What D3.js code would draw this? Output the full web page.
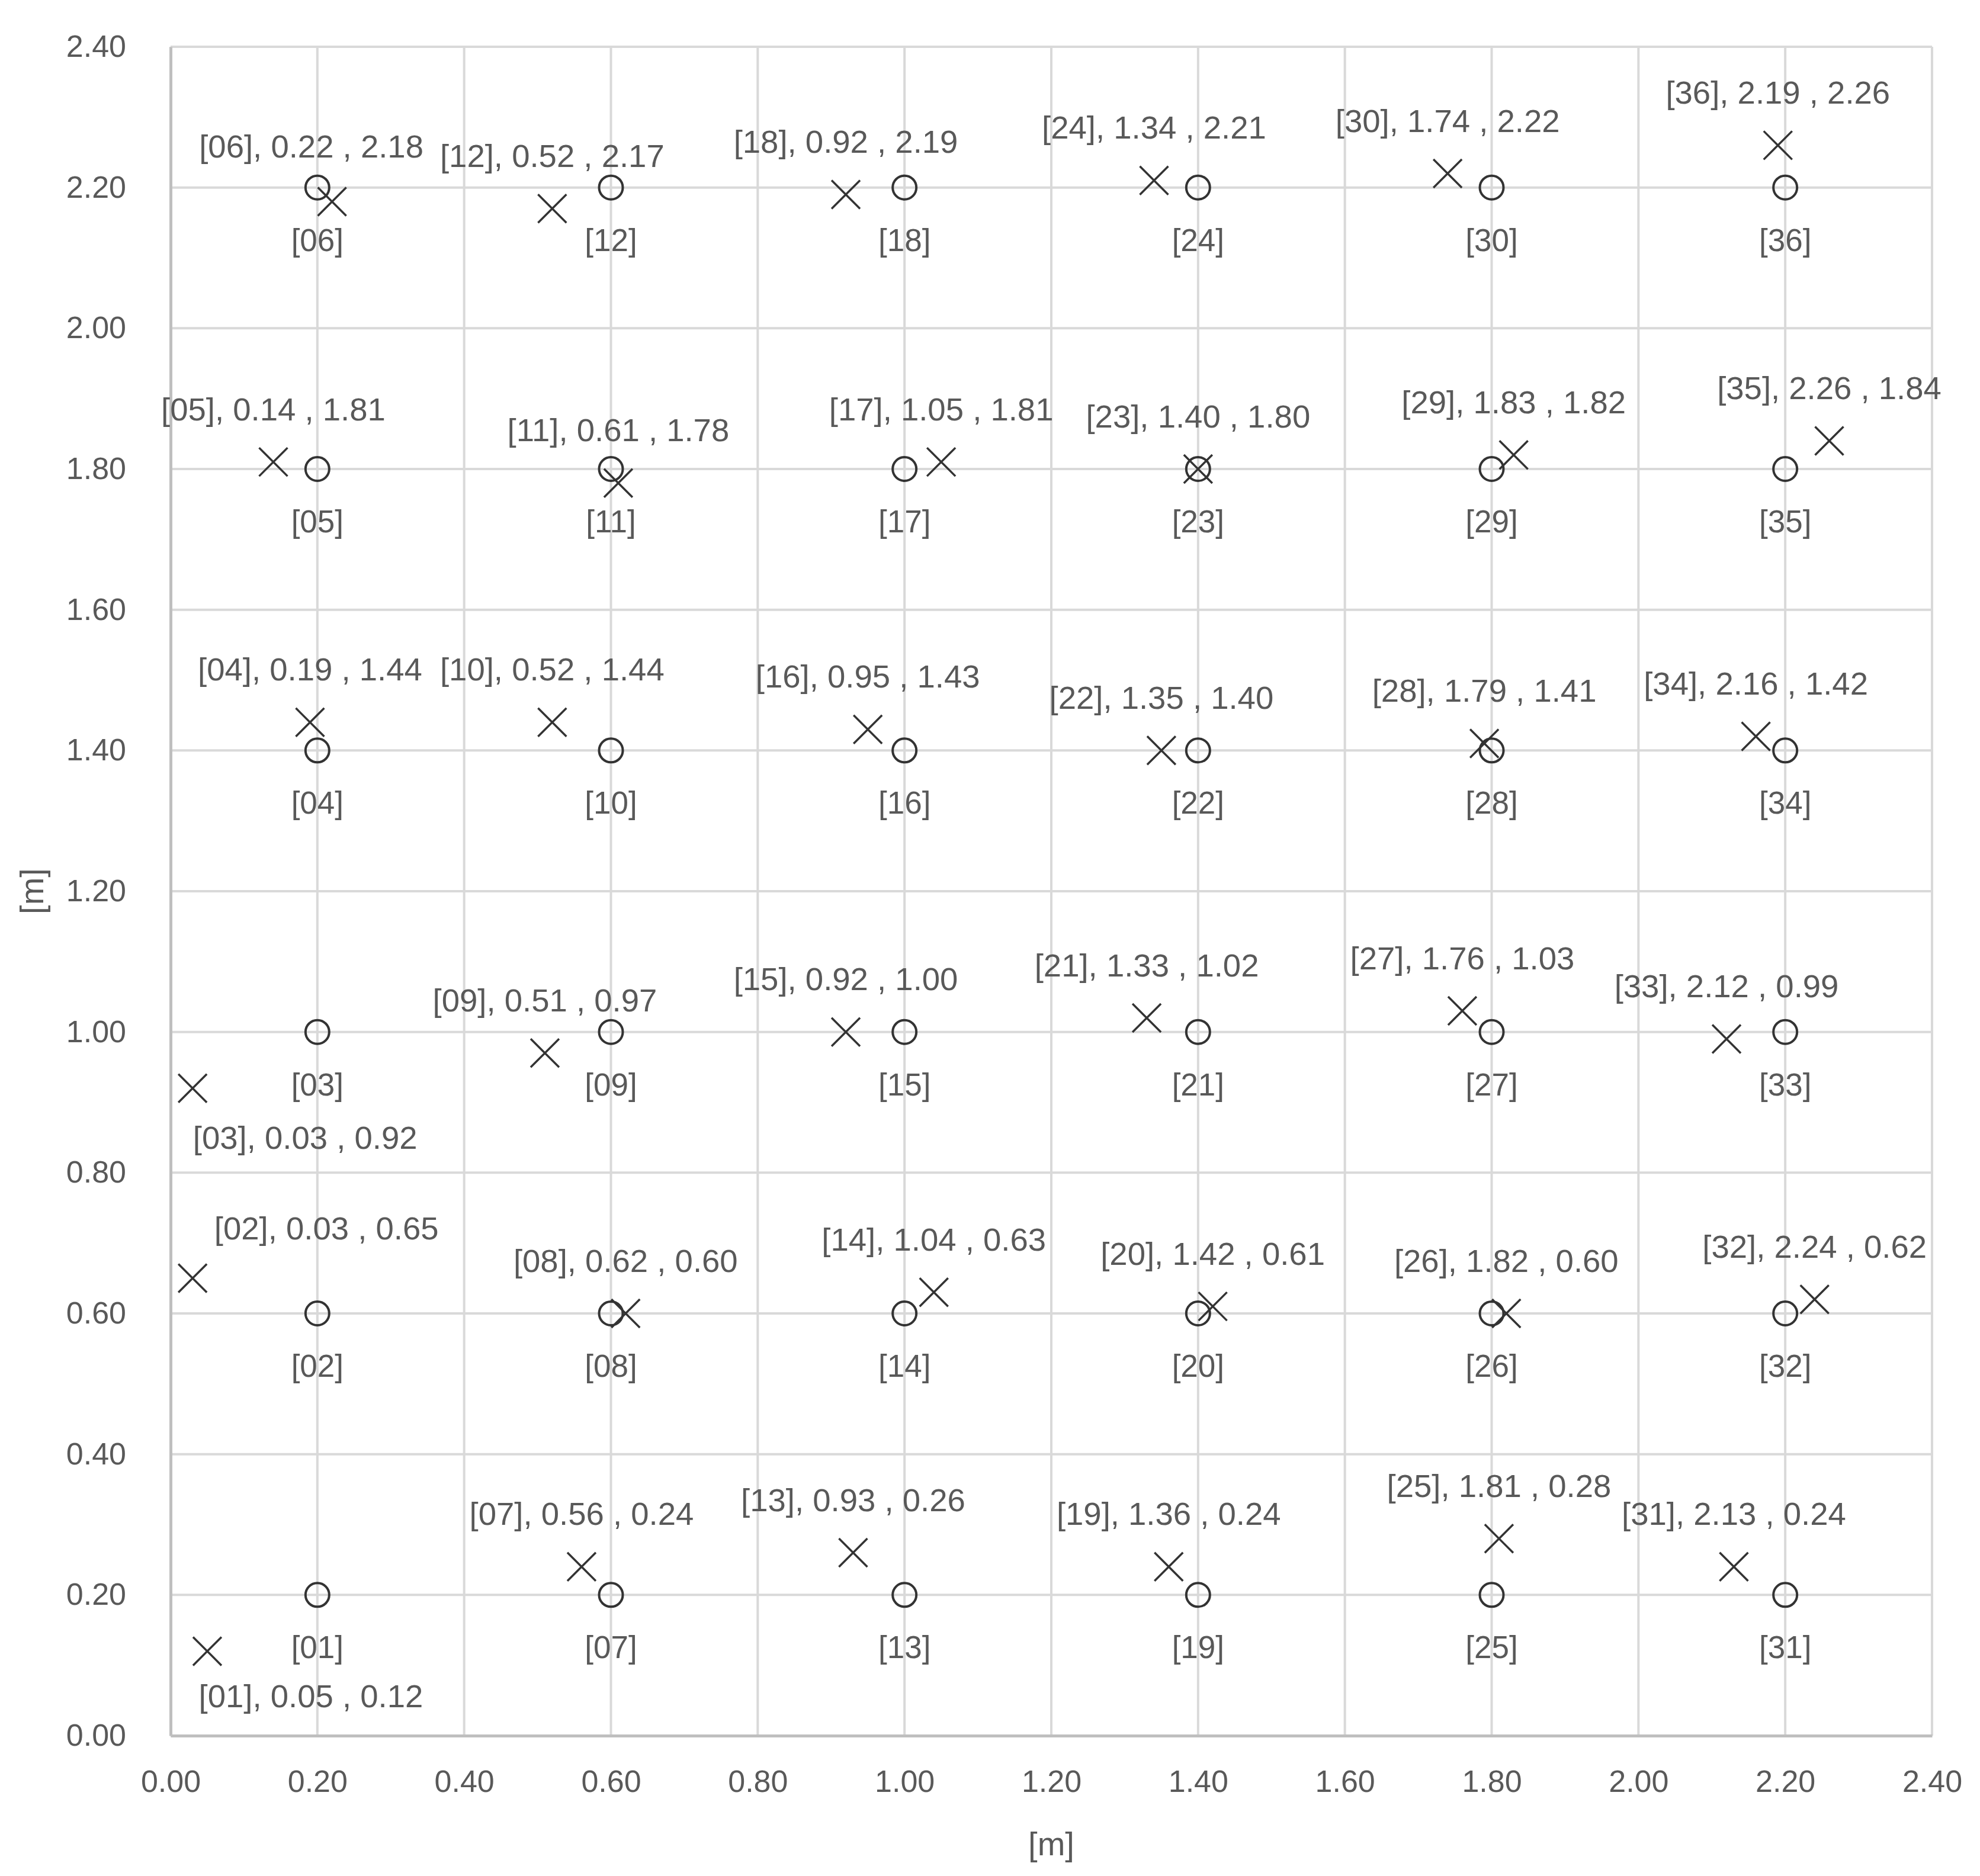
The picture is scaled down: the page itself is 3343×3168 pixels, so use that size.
<!DOCTYPE html>
<html>
<head>
<meta charset="utf-8">
<script src="https://cdnjs.cloudflare.com/ajax/libs/d3/7.8.5/d3.min.js"></script>
<style>
  body { margin: 0; background: #fff; }
  text { font-family: "Liberation Sans", Arial, sans-serif; fill: #595959; }
</style>
</head>
<body>
<div id="scatter"></div>
<script>
// point numbers
var pointIds = ["01","02","03","04","05","06","07","08","09","10","11","12",
                "13","14","15","16","17","18","19","20","21","22","23","24",
                "25","26","27","28","29","30","31","32","33","34","35","36"];

// reference (target) positions - the circles
var targetX = [0.2,0.2,0.2,0.2,0.2,0.2, 0.6,0.6,0.6,0.6,0.6,0.6,
               1.0,1.0,1.0,1.0,1.0,1.0, 1.4,1.4,1.4,1.4,1.4,1.4,
               1.8,1.8,1.8,1.8,1.8,1.8, 2.2,2.2,2.2,2.2,2.2,2.2];
var targetY = [0.2,0.6,1.0,1.4,1.8,2.2, 0.2,0.6,1.0,1.4,1.8,2.2,
               0.2,0.6,1.0,1.4,1.8,2.2, 0.2,0.6,1.0,1.4,1.8,2.2,
               0.2,0.6,1.0,1.4,1.8,2.2, 0.2,0.6,1.0,1.4,1.8,2.2];

// estimated positions - the crosses
var measuredX = [0.05,0.03,0.03,0.19,0.14,0.22, 0.56,0.62,0.51,0.52,0.61,0.52,
                 0.93,1.04,0.92,0.95,1.05,0.92, 1.36,1.42,1.33,1.35,1.40,1.34,
                 1.81,1.82,1.76,1.79,1.83,1.74, 2.13,2.24,2.12,2.16,2.26,2.19];
var measuredY = [0.12,0.65,0.92,1.44,1.81,2.18, 0.24,0.60,0.97,1.44,1.78,2.17,
                 0.26,0.63,1.00,1.43,1.81,2.19, 0.24,0.61,1.02,1.40,1.80,2.21,
                 0.28,0.60,1.03,1.41,1.82,2.22, 0.24,0.62,0.99,1.42,1.84,2.26];

// axis ticks
var tickValues = [0.00,0.20,0.40,0.60,0.80,1.00,1.20,1.40,1.60,1.80,2.00,2.20,2.40];

// labels that were moved by hand in the original (pixels)
var labelNudge = {
    "01": [175, 75],
    "02": [226, -85],
    "03": [190, 83],
    "06": [-35, -94]
};

var svgWidth = 3343;
var svgHeight = 3168;

var chartMargin = {
    top: 79,
    right: 81,
    left: 288,
    bottom: 237};

var chartWidth = svgWidth - chartMargin.left - chartMargin.right;
var chartHeight = svgHeight - chartMargin.top - chartMargin.bottom;

var svg = d3.select("#scatter")
    .append("svg")
    .attr("height", svgHeight)
    .attr("width", svgWidth);

svg.append("rect")
    .attr("width", svgWidth)
    .attr("height", svgHeight)
    .attr("fill", "#fff");

var chartGroup = svg.append("g")
    .attr("transform", `translate(${chartMargin.left}, ${chartMargin.top})`);

var points = pointIds.map(function(id, i) {
    return {id: id, tx: targetX[i], ty: targetY[i], mx: measuredX[i], my: measuredY[i]};
});

// scales
var xLinearScale = d3.scaleLinear()
    .domain([0, 2.4])
    .range([0, chartWidth]);

var yLinearScale = d3.scaleLinear()
    .domain([0, 2.4])
    .range([chartHeight, 0]);

// gridlines
chartGroup.append("g")
    .selectAll("line")
    .data(tickValues)
    .enter()
    .append("line")
    .attr("x1", d => xLinearScale(d))
    .attr("x2", d => xLinearScale(d))
    .attr("y1", 0)
    .attr("y2", chartHeight)
    .attr("stroke", "#d9d9d9")
    .attr("stroke-width", 4);

chartGroup.append("g")
    .selectAll("line")
    .data(tickValues)
    .enter()
    .append("line")
    .attr("x1", 0)
    .attr("x2", chartWidth)
    .attr("y1", d => yLinearScale(d))
    .attr("y2", d => yLinearScale(d))
    .attr("stroke", "#d9d9d9")
    .attr("stroke-width", 4);

// axes
var bottomAxis = d3.axisBottom(xLinearScale)
    .tickValues(tickValues)
    .tickFormat(d3.format(".2f"))
    .tickSize(0)
    .tickPadding(58);
var leftAxis = d3.axisLeft(yLinearScale)
    .tickValues(tickValues)
    .tickFormat(d3.format(".2f"))
    .tickSize(0)
    .tickPadding(75);

var xAxisG = chartGroup.append("g")
    .attr("transform", `translate(0, ${chartHeight})`)
    .call(bottomAxis);

var yAxisG = chartGroup.append("g")
    .call(leftAxis);

[xAxisG, yAxisG].forEach(function(g) {
    g.select(".domain")
        .attr("stroke", "#bfbfbf")
        .attr("stroke-width", 5);
    g.selectAll("text")
        .attr("font-size", 52)
        .attr("font-family", "Liberation Sans, Arial, sans-serif")
        .attr("fill", "#595959");
});

// circles (targets)
chartGroup.append("g")
    .selectAll("circle")
    .data(points)
    .enter()
    .append("circle")
    .attr("cx", d => xLinearScale(d.tx))
    .attr("cy", d => yLinearScale(d.ty))
    .attr("r", 20)
    .attr("fill", "none")
    .attr("stroke", "#333")
    .attr("stroke-width", 4);

// target labels
chartGroup.append("g")
    .selectAll("text")
    .data(points)
    .enter()
    .append("text")
    .attr("x", d => xLinearScale(d.tx))
    .attr("y", d => yLinearScale(d.ty) + 88)
    .attr("dy", "0.36em")
    .attr("text-anchor", "middle")
    .attr("font-size", 53)
    .text(d => "[" + d.id + "]");

// crosses (measured)
var s = 24;
chartGroup.append("g")
    .selectAll("path")
    .data(points)
    .enter()
    .append("path")
    .attr("d", function(d) {
        var x = xLinearScale(d.mx), y = yLinearScale(d.my);
        return `M${x - s},${y - s}L${x + s},${y + s}M${x - s},${y + s}L${x + s},${y - s}`;
    })
    .attr("fill", "none")
    .attr("stroke", "#333")
    .attr("stroke-width", 3.5);

// measured labels
chartGroup.append("g")
    .selectAll("text")
    .data(points)
    .enter()
    .append("text")
    .attr("x", d => xLinearScale(d.mx) + (labelNudge[d.id] ? labelNudge[d.id][0] : 0))
    .attr("y", d => yLinearScale(d.my) + (labelNudge[d.id] ? labelNudge[d.id][1] : -90))
    .attr("dy", "0.36em")
    .attr("text-anchor", "middle")
    .attr("font-size", 54.5)
    .text(d => "[" + d.id + "], " + d.mx.toFixed(2) + " , " + d.my.toFixed(2));

// axis titles
chartGroup.append("text")
    .attr("x", chartWidth / 2)
    .attr("y", chartHeight + 182)
    .attr("dy", "0.36em")
    .attr("text-anchor", "middle")
    .attr("font-size", 56)
    .text("[m]");

chartGroup.append("text")
    .attr("transform", `translate(${53 - chartMargin.left}, ${chartHeight / 2}) rotate(-90)`)
    .attr("dy", "0.36em")
    .attr("text-anchor", "middle")
    .attr("font-size", 56)
    .text("[m]");
</script>
</body>
</html>
